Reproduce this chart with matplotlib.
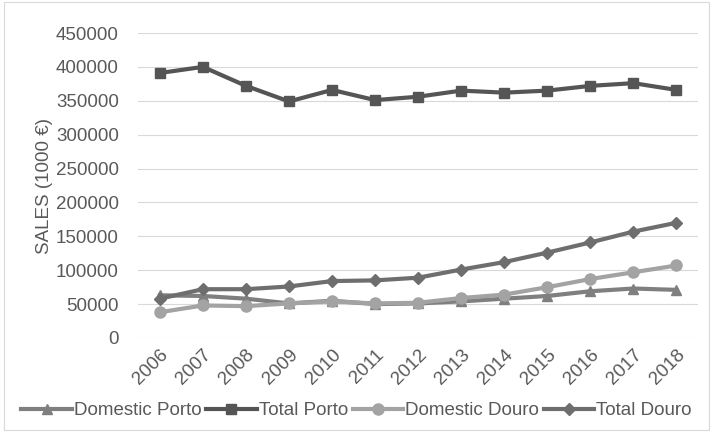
import matplotlib
matplotlib.use("Agg")
import matplotlib.pyplot as plt

years = [str(y) for y in range(2006, 2019)]
domestic_porto = [63000, 62000, 58000, 51000, 55000, 50000, 51000, 54000, 58000, 62000, 69000, 73000, 71000]
total_porto = [391000, 400000, 372000, 349000, 366000, 351000, 356000, 365000, 362000, 365000, 372000, 376000, 366000]
domestic_douro = [38000, 48000, 47000, 51000, 54000, 51000, 52000, 59000, 64000, 75000, 87000, 97000, 107000]
total_douro = [58000, 72000, 72000, 76000, 84000, 85000, 89000, 101000, 112000, 126000, 141000, 157000, 170000]
yticks = list(range(0, 450001, 50000))

plt.rcParams["font.family"] = ["Liberation Sans", "DejaVu Sans"]
FS = 13.5

fig = plt.figure(figsize=(7.13, 4.32), dpi=100)
ax = fig.add_axes([0.194, 0.2176, 0.785, 0.706])

series = [
    ("Domestic Porto", domestic_porto, "^", "#7f7f7f", 7),
    ("Total Porto", total_porto, "s", "#555555", 7),
    ("Domestic Douro", domestic_douro, "o", "#a3a3a3", 8),
    ("Total Douro", total_douro, "D", "#6e6e6e", 6),
]
x = list(range(len(years)))
for name, vals, mk, col, ms in series:
    ax.plot(x, vals, marker=mk, color=col, lw=3, ms=ms, label=name)

ax.set_xlim(-0.5, len(years) - 0.5)
ax.set_ylim(0, 450000)
ax.set_yticks(yticks)
ax.set_yticklabels([str(v) for v in yticks], fontsize=FS, color="#595959")
ax.set_xticks(x)
ax.set_xticklabels(years, rotation=45, fontsize=FS, color="#595959", ha="right",
                   rotation_mode="anchor")
ax.tick_params(axis="y", length=0, pad=14)
ax.tick_params(axis="x", length=0, pad=6)
ax.grid(axis="y", color="#d9d9d9", lw=0.8)
ax.set_axisbelow(True)
for s in ax.spines.values():
    s.set_visible(False)
ax.set_ylabel("SALES (1000 €)", fontsize=FS, color="#595959", labelpad=2)

fig.legend(loc="lower center", ncol=4, frameon=False, fontsize=FS,
           bbox_to_anchor=(0.5, -0.01), handlelength=2.7, handletextpad=0.1,
           columnspacing=0.25, labelcolor="#595959")

fig.add_artist(plt.Rectangle((0.005, 0.005), 0.99, 0.99, transform=fig.transFigure,
                             fill=False, ec="#d9d9d9", lw=0.8))
fig.savefig("out.png", dpi=100)
